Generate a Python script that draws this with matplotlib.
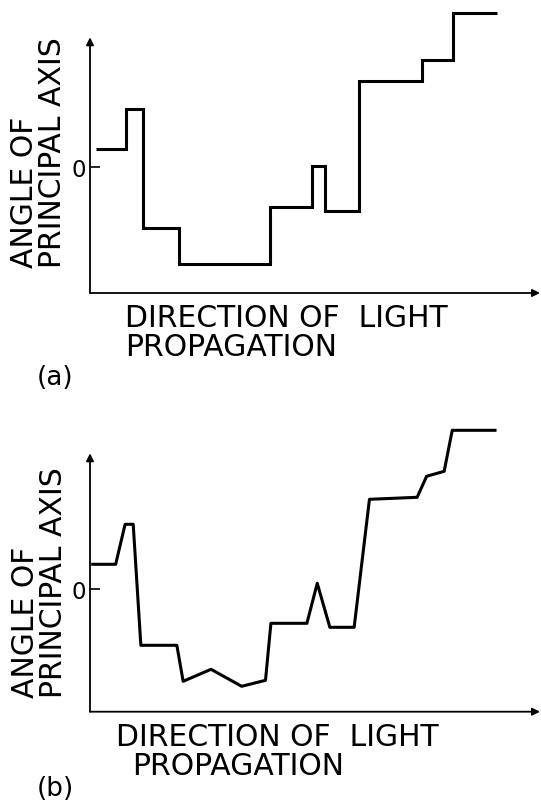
import numpy as np
import matplotlib.pyplot as plt

plt.rcParams['font.family'] = ['DejaVu Sans']

# (a) stepwise rotation of the principal axis: segment edges and levels
edges_a = [1.3, 7.9, 11.7, 19.8, 40.0, 49.4, 52.3, 59.8, 73.8, 80.7, 90.4]
levels_a = [18, 58, -61, -97, -40, 1, -44, 86, 107, 154]

# (b) the same profile, smoothed
x_b = [0.6, 5.7, 7.8, 9.6, 11.3, 19.3, 20.7, 26.9, 33.7, 39.0, 40.2,
       48.2, 50.5, 53.3, 58.7, 62.1, 72.7, 74.8, 78.7, 80.5, 90.0]
y_b = [25, 25, 65, 65, -56, -56, -92, -80, -97, -91, -34,
       -34, 6, -38, -38, 90, 92, 113, 118, 159, 159]

xlabel_lines = ["DIRECTION OF  LIGHT", "PROPAGATION"]
ylabel_lines = ["ANGLE OF", "PRINCIPAL AXIS"]
panel_tags = ["(a)", "(b)"]

W, H = 541, 804
fig = plt.figure(figsize=(W / 100, H / 100), dpi=100)


def fx(x):
    return x / W


def fy(y):
    return 1 - y / H


def make_axes(top_px, bottom_px, ylim, ytop):
    ax = fig.add_axes([fx(90), fy(bottom_px), 450 / W, (bottom_px - top_px) / H])
    ax.set_xlim(0, 100)
    ax.set_ylim(*ylim)
    for s in ax.spines.values():
        s.set_visible(False)
    ax.set_xticks([])
    ax.set_yticks([0])
    ax.set_yticklabels(['0'])
    ax.tick_params(axis='y', direction='in', length=7, width=1.2, pad=3, labelsize=16.5)
    arrow = dict(arrowstyle='-|>', lw=1.3, color='black', mutation_scale=11,
                 shrinkA=0, shrinkB=0)
    ax.annotate('', xy=(0, ytop), xytext=(0, ylim[0]), arrowprops=arrow,
                annotation_clip=False)
    ax.annotate('', xy=(100, ylim[0]), xytext=(0, ylim[0]), arrowprops=arrow,
                annotation_clip=False)
    return ax


ax_a = make_axes(10, 294, (-126.3, 157.7), 129.4)
ax_a.stairs(levels_a, edges_a, baseline=None, color='black', lw=2.2, clip_on=False)

ax_b = make_axes(425, 712.7, (-122.4, 165.3), 136)
ax_b.plot(x_b, y_b, color='black', lw=2.2, clip_on=False)

# labels, placed like the hand-lettered originals
label_kw = dict(fontsize=21.5, color='black')
for x0, base1, base2, x2, ybot, ycol1, ycol2, tag_y, tag in [
        (125, 327.5, 356, 125, 268, 33, 61, 385, panel_tags[0]),
        (116, 746.5, 775, 132, 698, 34, 62, 796, panel_tags[1])]:
    fig.text(fx(x0), fy(base1), xlabel_lines[0], ha='left', va='baseline', **label_kw)
    fig.text(fx(x2), fy(base2), xlabel_lines[1], ha='left', va='baseline', **label_kw)
    fig.text(fx(ycol1), fy(ybot), ylabel_lines[0], rotation=90, rotation_mode='anchor',
             ha='left', va='baseline', **label_kw)
    fig.text(fx(ycol2), fy(ybot), ylabel_lines[1], rotation=90, rotation_mode='anchor',
             ha='left', va='baseline', **label_kw)
    fig.text(fx(37), fy(tag_y), tag, ha='left', va='baseline', fontsize=19)

fig.savefig('out.png', dpi=100)
